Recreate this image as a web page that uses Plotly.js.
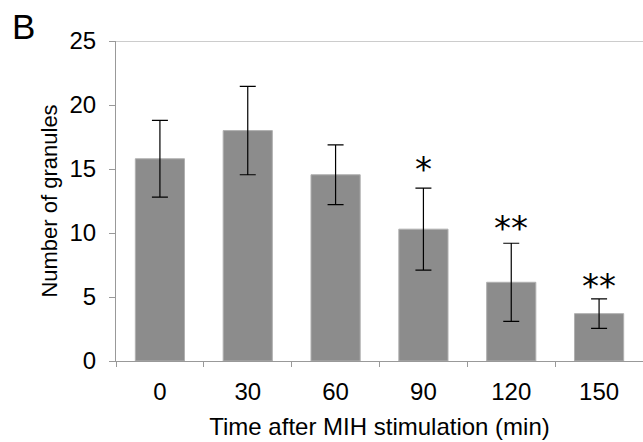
<!DOCTYPE html>
<html>
<head>
<meta charset="utf-8">
<script src="https://cdn.plot.ly/plotly-3.0.1.min.js"></script>
<style>html,body{margin:0;padding:0;background:#fff;}#chart{width:643px;height:442px;}</style>
</head>
<body>
<div id="chart"></div>
<script>
const categories = ["0", "30", "60", "90", "120", "150"];
const granules = [15.8, 18.0, 14.55, 10.3, 6.15, 3.7];
const errors = [3.0, 3.45, 2.33, 3.2, 3.05, 1.15];
const stars = ["", "", "", "*", "**", "**"];
const starY = [null, null, null, 15.3, 10.7, 6.15];

const FONT = "Liberation Sans, Arial, Helvetica, sans-serif";

const trace = {
  type: "bar",
  x: categories,
  y: granules,
  width: 0.56,
  marker: {color: "#8c8c8c", line: {color: "#b0b0b0", width: 1}},
  error_y: {type: "data", array: errors, visible: true, color: "#000", thickness: 1.2, width: 8}
};

const annotations = [];
categories.forEach((c, i) => {
  if (stars[i]) {
    annotations.push({x: i, y: starY[i], xref: "x", yref: "y", text: stars[i], showarrow: false,
      yanchor: "middle", yshift: -4, font: {family: "DejaVu Sans, sans-serif", size: 34, color: "#000"}});
  }
});
annotations.push({x: 0, y: 1, xref: "paper", yref: "paper", xanchor: "left", yanchor: "top", xshift: -116 + 10, yshift: 41 - 5,
  text: "B", showarrow: false, font: {family: FONT, size: 35, color: "#000"}});

const layout = {
  width: 643, height: 442,
  margin: {l: 116, r: 0, t: 41, b: 81, pad: 0},
  paper_bgcolor: "#fff", plot_bgcolor: "#fff",
  showlegend: false,
  font: {family: FONT, color: "#000", size: 24},
  xaxis: {
    type: "category", range: [-0.5, 5.5], tickson: "boundaries", ticks: "outside", ticklen: 5, tickcolor: "#999", tickwidth: 1,
    showline: true, linecolor: "#999", linewidth: 1, showgrid: false, zeroline: false,
    ticklabelstandoff: 9,
    tickfont: {family: FONT, size: 24, color: "#000"},
    title: {text: "Time after MIH stimulation (min)", font: {family: FONT, size: 24, color: "#000"}, standoff: 14}
  },
  yaxis: {
    range: [0, 25], tickvals: [0, 5, 10, 15, 20, 25], ticks: "outside", ticklen: 6, tickcolor: "#999", tickwidth: 1,
    showline: true, linecolor: "#999", linewidth: 1, showgrid: false, zeroline: false,
    ticklabelstandoff: 8,
    tickfont: {family: FONT, size: 24, color: "#000"},
    title: {text: "Number of granules", font: {family: FONT, size: 22, color: "#000"}, standoff: 5}
  },
  shapes: [{type: "line", xref: "paper", yref: "y", x0: 0, x1: 1, y0: 25, y1: 25, line: {color: "#999", width: 1}}],
  annotations: annotations
};

Plotly.newPlot("chart", [trace], layout, {displayModeBar: false, staticPlot: true});
</script>
</body>
</html>
